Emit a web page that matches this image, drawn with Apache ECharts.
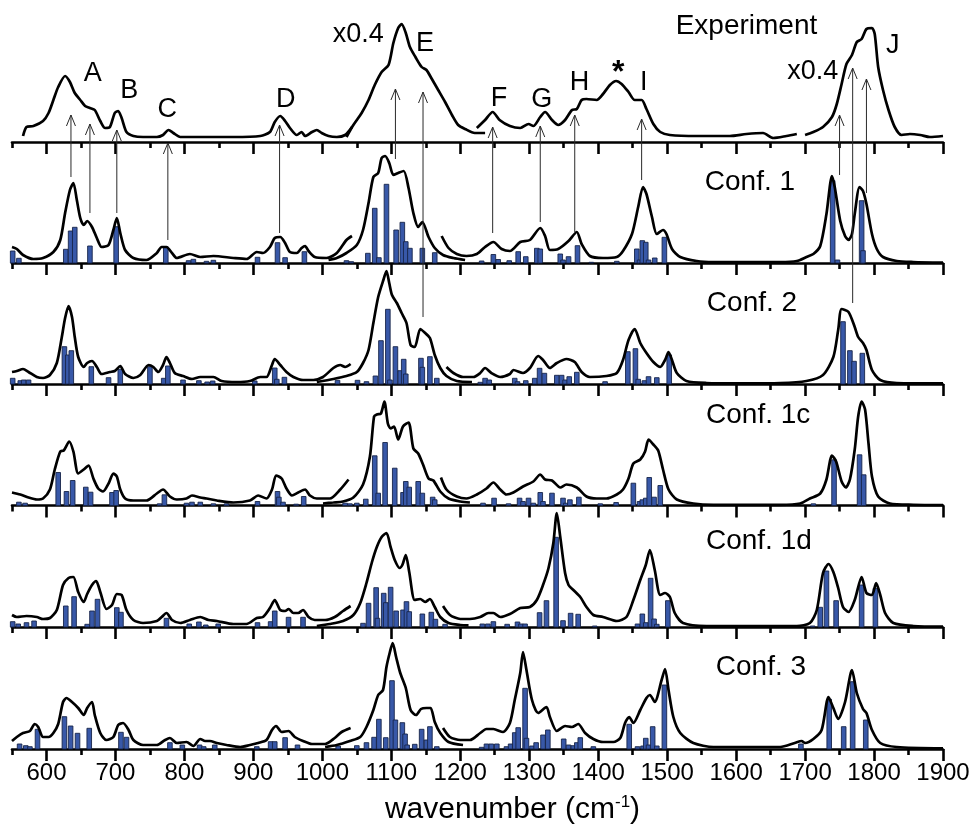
<!DOCTYPE html>
<html>
<head>
<meta charset="utf-8">
<script src="https://cdn.jsdelivr.net/npm/echarts@6/dist/echarts.min.js"></script>
<style>html,body{margin:0;padding:0;background:#fff}#c{width:972px;height:827px}</style>
</head>
<body>
<div id="c"></div>
<script>
// ---------- tick labels ----------
const majorTicks = [600,700,800,900,1000,1100,1200,1300,1400,1500,1600,1700,1800,1900];
const minorTicks = [550,650,750,850,950,1050,1150,1250,1350,1450,1550,1650,1750,1850];

// ---------- Experiment (segments) ----------
const expSeg1 = [[566,6],[571,15],[581,16],[595,21],[603,29],[610,42],[617,55],[627,66],[634,60],[641,49],[649,42],[656,36],[663,34],[670,32],[678,21],[685,14],[692,15],[699,29],[704,31],[709,24],[716,10],[726,6],[740,5],[760,5],[769,7],[777,12],[784,9],[794,5],[823,5],[871,5],[910,6],[924,10],[931,20],[939,26],[946,21],[953,14],[963,7],[970,10],[975,6],[985,10],[992,12],[999,9],[1009,6],[1021,5],[1033,7],[1043,15]];
const expSeg2 = [[1035,5],[1045,17],[1057,29],[1067,42],[1076,57],[1086,70],[1096,77],[1103,99],[1110,114],[1115,118],[1121,109],[1127,95],[1135,85],[1144,75],[1151,72],[1158,64],[1168,52],[1178,40],[1188,27],[1197,17],[1207,13],[1221,9],[1236,9]];
const expSeg3 = [[1224,14],[1236,22],[1247,30],[1257,22],[1272,16],[1287,14],[1299,18],[1306,16],[1316,25],[1323,30],[1333,22],[1342,17],[1352,22],[1362,32],[1369,33],[1376,42],[1383,43],[1398,42],[1407,48],[1417,57],[1426,61],[1434,58],[1444,50],[1453,42],[1463,42],[1470,33],[1480,18],[1490,10],[1504,7],[1543,6],[1591,6],[1615,8],[1639,9],[1654,4],[1673,6],[1688,8]];
const expSeg4 = [[1700,7],[1712,10],[1726,15],[1739,25],[1746,38],[1753,58],[1760,78],[1768,87],[1775,100],[1782,103],[1789,113],[1797,114],[1801,108],[1806,75],[1813,52],[1821,32],[1830,15],[1840,7],[1852,8],[1867,7],[1881,5],[1900,6]];

// ---------- Conf. 1 ----------
const conf1Seg1 = [[550,16],[557,14],[566,8],[581,4],[595,5],[610,11],[620,23],[627,50],[634,73],[639,80],[644,63],[649,45],[654,38],[659,42],[666,36],[673,25],[680,16],[690,18],[697,33],[702,45],[707,30],[714,13],[726,5],[745,3],[760,10],[767,16],[774,16],[782,10],[789,5],[808,9],[823,6],[842,7],[871,5],[890,4],[905,11],[914,10],[924,16],[931,25],[939,26],[946,20],[953,11],[963,10],[970,15],[975,17],[980,12],[989,6],[1006,5],[1021,10],[1035,23],[1043,27]];
const conf1Seg2 = [[1009,3],[1021,5],[1035,10],[1050,18],[1059,33],[1067,60],[1074,86],[1081,90],[1086,105],[1091,107],[1097,100],[1103,88],[1110,90],[1118,92],[1125,75],[1132,50],[1139,36],[1145,41],[1154,26],[1163,15],[1175,8],[1190,5],[1207,3]];
const conf1Seg3 = [[1173,27],[1183,15],[1195,9],[1209,7],[1224,9],[1236,16],[1248,21],[1260,14],[1272,12],[1287,21],[1301,23],[1316,35],[1323,27],[1330,13],[1342,14],[1357,22],[1369,31],[1376,19],[1388,7],[1407,5],[1427,6],[1436,12],[1449,29],[1458,56],[1465,76],[1470,69],[1478,46],[1485,29],[1494,33],[1499,29],[1507,14],[1519,6],[1543,2],[1567,1],[1615,1],[1664,1],[1688,2],[1702,6],[1712,9],[1722,17],[1731,49],[1739,87],[1743,76],[1751,42],[1758,27],[1763,23],[1768,29],[1772,49],[1779,76],[1784,72],[1789,59],[1797,29],[1804,14],[1813,6],[1833,2],[1857,1],[1900,0.3]];
const conf1Bars = [[551,12],[560,4.7],[628,13.7],[635,32],[641,35.7],[663,17],[701,36.3],[773,16.3],[806,2.3],[813,3.7],[832,1.7],[842,2.7],[906,5.7],[935,20.3],[946,5.3],[974,11.3],[1035,2.3],[1042,1.3],[1066,9.7],[1076,54.7],[1082,5.3],[1093,78.7],[1107,33],[1116,40.7],[1121,21.3],[1127,14.7],[1145,14.7],[1163,10.3],[1231,2],[1248,8.5],[1255,3.5],[1271,2.3],[1284,11.3],[1295,6.3],[1311,14.7],[1316,14],[1345,9],[1349,3],[1357,6.3],[1370,17.3],[1390,0.7],[1427,1.7],[1456,14],[1460,3],[1464,22.3],[1469,20.7],[1473,3],[1482,5],[1496,25.7],[1740,82.3],[1747,3],[1782,62.3],[1784,12.3]];

// ---------- Conf. 2 ----------
const conf2Seg1 = [[550,12],[557,13],[566,15],[574,12],[586,7],[595,6],[605,9],[615,21],[622,46],[627,66],[632,78],[637,67],[641,47],[646,27],[654,17],[659,21],[666,23],[673,17],[680,10],[692,12],[699,13],[707,18],[714,10],[726,6],[736,9],[748,19],[755,17],[762,12],[769,19],[774,27],[779,21],[786,11],[798,8],[811,5],[823,7],[842,7],[854,3],[876,2],[895,3],[910,7],[919,7],[927,19],[931,25],[939,19],[948,12],[958,7],[972,4],[987,4],[1001,7],[1016,16],[1026,19],[1033,17],[1041,20]];
const conf2Seg2 = [[992,2],[1016,5],[1035,8],[1050,12],[1059,21],[1067,34],[1074,61],[1081,87],[1089,105],[1093,113],[1097,101],[1101,89],[1108,81],[1115,71],[1122,61],[1128,39],[1134,37],[1142,55],[1149,51],[1156,46],[1163,29],[1171,16],[1180,8],[1195,3],[1217,2]];
const conf2Seg3 = [[1180,17],[1190,11],[1204,7],[1219,7],[1229,11],[1236,16],[1245,11],[1258,7],[1272,10],[1277,14],[1291,11],[1301,16],[1313,28],[1320,24],[1330,16],[1340,21],[1354,25],[1366,22],[1376,12],[1388,7],[1412,8],[1427,11],[1436,24],[1444,44],[1453,55],[1461,41],[1470,31],[1480,22],[1490,17],[1497,24],[1502,32],[1507,24],[1514,11],[1528,3],[1557,1],[1606,0.7],[1664,1],[1702,3],[1726,9],[1741,27],[1748,54],[1753,75],[1763,72],[1772,57],[1777,47],[1784,41],[1789,34],[1797,14],[1809,4],[1833,1],[1900,0.7]];
const conf2Bars = [[551,5.7],[562,3.3],[567,4],[574,4],[626,37.3],[631,29],[636,33.3],[665,17.3],[690,6.3],[707,14.7],[750,17.3],[770,5.7],[776,18],[798,4],[821,3.3],[833,2],[841,3],[902,3],[931,16],[934,4.7],[945,6.7],[1022,3.7],[1051,3.7],[1064,2.3],[1077,8],[1085,43.3],[1095,74.7],[1098,4],[1106,37.3],[1113,13.3],[1118,24.7],[1121,10],[1143,25.7],[1145,16.7],[1156,27.3],[1166,5.7],[1229,1.7],[1236,5.7],[1242,4],[1279,5.7],[1283,2.3],[1295,3.3],[1308,5.7],[1315,15.7],[1322,10.7],[1340,8.7],[1347,8.7],[1352,4],[1358,7.3],[1369,11.7],[1410,2.3],[1443,32.3],[1454,35.3],[1458,4.7],[1467,3.3],[1473,7.3],[1485,6.3],[1503,29],[1755,62.3],[1765,33.3],[1771,22.7],[1783,30.7]];

// ---------- Conf. 1c ----------
const conf1cSeg1 = [[550,13],[562,11],[574,8],[586,6],[595,7],[605,16],[612,36],[620,54],[625,55],[633,64],[639,54],[646,32],[654,36],[661,40],[668,27],[675,17],[682,14],[690,22],[697,32],[702,29],[707,16],[714,7],[726,5],[745,5],[760,12],[769,16],[779,9],[789,6],[803,7],[811,10],[823,8],[832,7],[847,5],[871,3],[895,5],[907,10],[919,7],[927,16],[933,30],[941,27],[948,17],[956,10],[965,13],[975,16],[982,10],[992,7],[1011,7],[1026,16],[1038,26]];
const conf1cSeg2 = [[1001,2],[1016,3],[1030,4],[1045,8],[1059,21],[1069,49],[1075,89],[1079,91],[1085,92],[1090,104],[1095,82],[1099,77],[1104,79],[1110,66],[1117,79],[1125,83],[1132,57],[1139,52],[1146,41],[1154,27],[1161,25],[1171,14],[1183,7],[1200,4],[1214,3]];
const conf1cSeg3 = [[1172,28],[1180,16],[1195,9],[1209,7],[1224,11],[1238,17],[1248,23],[1258,16],[1267,11],[1277,13],[1291,19],[1306,24],[1316,31],[1323,26],[1333,25],[1345,18],[1354,21],[1369,18],[1383,9],[1398,7],[1412,7],[1427,11],[1436,16],[1444,27],[1451,42],[1461,46],[1468,54],[1473,66],[1480,61],[1487,55],[1494,36],[1502,16],[1514,6],[1538,2],[1567,0.7],[1615,0.7],[1664,0.7],[1693,2],[1707,7],[1722,12],[1731,26],[1739,50],[1745,44],[1753,24],[1759,18],[1765,26],[1772,56],[1777,89],[1782,104],[1787,96],[1792,62],[1797,29],[1806,9],[1823,2],[1857,0.7],[1900,0.3]];
const conf1cBars = [[560,3.3],[569,2.3],[617,33],[629,14],[638,25],[657,18.3],[664,13.3],[695,13],[701,15],[764,1.7],[771,10.7],[803,2.3],[811,3.3],[823,3.3],[842,1.7],[861,1.7],[906,4],[935,14],[937,8.3],[943,3.3],[962,1.3],[973,9],[1033,2.3],[1040,1.7],[1050,2.3],[1063,6.3],[1076,49.7],[1081,12.3],[1091,63],[1105,37.3],[1117,13],[1121,24],[1126,18.3],[1139,24],[1145,12.3],[1160,8.3],[1163,5.7],[1233,2.3],[1249,7.3],[1270,1.7],[1286,7.3],[1291,4],[1299,7.3],[1306,2.3],[1316,13],[1320,4],[1333,12.3],[1349,7.3],[1353,2.3],[1359,5.7],[1372,8.3],[1403,1.7],[1426,3],[1451,22.3],[1460,4],[1464,5.7],[1469,7.3],[1474,28],[1481,8.3],[1490,20],[1712,1.7],[1742,45.7],[1779,50.7],[1785,30.7]];

// ---------- Conf. 1d ----------
const conf1dSeg1 = [[550,12],[557,10],[571,11],[586,10],[595,8],[605,9],[615,17],[624,42],[632,49],[639,50],[646,35],[654,25],[659,33],[666,42],[672,46],[678,35],[687,18],[695,22],[702,33],[709,32],[716,17],[726,7],[740,4],[760,6],[767,10],[774,14],[782,7],[794,4],[808,7],[823,10],[835,7],[847,6],[871,3],[890,3],[905,9],[914,10],[924,19],[931,27],[939,17],[946,16],[951,18],[958,14],[965,14],[972,17],[980,10],[989,7],[1004,7],[1018,10],[1030,16],[1041,21]];
const conf1dSeg2 = [[992,1],[1011,3],[1030,6],[1045,12],[1055,24],[1064,44],[1072,65],[1079,80],[1086,90],[1093,94],[1099,80],[1105,67],[1112,59],[1116,62],[1121,72],[1126,55],[1134,27],[1142,28],[1149,25],[1156,28],[1163,20],[1171,10],[1183,4],[1200,2],[1212,1.7]];
const conf1dSeg3 = [[1175,21],[1185,12],[1200,8],[1214,8],[1229,10],[1241,14],[1248,14],[1258,10],[1272,13],[1287,19],[1301,20],[1311,27],[1320,42],[1328,59],[1335,84],[1340,114],[1345,90],[1352,54],[1357,42],[1364,37],[1374,30],[1383,20],[1393,12],[1407,10],[1427,6],[1441,10],[1451,27],[1461,47],[1469,62],[1475,77],[1482,57],[1490,32],[1497,34],[1504,30],[1511,14],[1523,4],[1557,1],[1615,1],[1688,1],[1707,4],[1717,17],[1726,54],[1734,63],[1741,55],[1748,39],[1755,20],[1763,15],[1772,27],[1782,50],[1789,34],[1797,32],[1803,44],[1809,32],[1816,14],[1828,4],[1857,1],[1900,0.3]];
const conf1dBars = [[551,5.3],[559,3],[571,4.3],[582,6],[628,21],[640,30.3],[659,2.7],[666,16],[674,27.7],[702,19.3],[708,14.7],[774,8.7],[807,3],[821,5],[831,2],[849,3],[906,4.3],[925,5.3],[931,16],[951,9.7],[972,9.7],[1059,3.7],[1067,23.7],[1078,39.3],[1080,8.7],[1089,33.7],[1092,24.3],[1099,39.7],[1107,16],[1117,17],[1122,25.3],[1126,15.3],[1145,13],[1158,14.7],[1164,7.7],[1178,2.7],[1232,3],[1240,3],[1248,5.3],[1268,2.7],[1283,5],[1288,3],[1294,3],[1315,14.3],[1325,26.3],[1339,89.7],[1349,6.3],[1360,13.7],[1371,12.7],[1395,1],[1457,3],[1464,13],[1469,4.3],[1476,48.7],[1481,8],[1485,2.7],[1501,26.3],[1711,1],[1722,19.7],[1731,56],[1745,26.3],[1782,42],[1802,38.7]];

// ---------- Conf. 3 ----------
const conf3Seg1 = [[550,8],[557,12],[566,16],[576,18],[583,25],[588,22],[595,12],[603,12],[610,16],[617,25],[624,47],[629,51],[637,47],[646,41],[654,34],[659,41],[666,47],[670,34],[678,16],[687,9],[697,12],[704,24],[711,26],[719,19],[726,9],[740,4],[760,4],[772,9],[779,11],[789,6],[803,7],[813,3],[823,10],[830,8],[837,8],[847,6],[861,4],[881,2],[895,4],[907,6],[919,9],[927,19],[933,23],[941,17],[951,18],[960,12],[972,8],[985,5],[1004,5],[1018,11],[1028,17],[1041,21]];
const conf3Seg2 = [[1004,2],[1021,4],[1040,8],[1055,12],[1064,22],[1074,39],[1081,54],[1088,59],[1093,82],[1098,97],[1102,106],[1107,92],[1113,76],[1121,61],[1128,39],[1136,34],[1143,40],[1151,41],[1157,41],[1163,27],[1171,16],[1183,7],[1204,4]];
const conf3Seg3 = [[1175,21],[1185,12],[1200,9],[1214,9],[1229,16],[1238,20],[1248,20],[1262,17],[1272,26],[1279,49],[1287,76],[1291,97],[1296,79],[1304,49],[1313,36],[1325,42],[1330,32],[1340,18],[1352,23],[1362,22],[1371,25],[1381,16],[1393,10],[1407,7],[1422,7],[1432,11],[1439,26],[1445,32],[1451,26],[1461,39],[1470,51],[1475,54],[1482,47],[1492,69],[1497,80],[1502,59],[1509,32],[1519,16],[1538,6],[1567,2],[1615,2],[1664,2],[1685,6],[1695,8],[1700,6],[1712,10],[1724,19],[1734,52],[1741,41],[1748,30],[1758,47],[1768,79],[1775,56],[1784,40],[1789,36],[1797,19],[1809,6],[1833,2],[1900,0.7]];
const conf3Bars = [[561,5],[570,3.3],[576,2.3],[587,19.7],[626,32.3],[635,23],[645,15.7],[662,20.7],[708,16.7],[716,11.7],[779,6.3],[797,4],[822,4],[828,2.3],[844,4],[905,2.3],[925,7.3],[931,7.3],[946,11.3],[964,4],[1023,3],[1050,3.3],[1064,6.3],[1075,11.7],[1082,29.7],[1092,11.3],[1101,68.3],[1106,29],[1116,26.3],[1120,15],[1123,4],[1134,4.7],[1144,19.7],[1151,9],[1156,22.3],[1166,2.3],[1231,1.7],[1238,5],[1245,5],[1253,5],[1267,2.3],[1273,5],[1279,16.3],[1284,21.3],[1294,60.7],[1296,10.7],[1304,3],[1310,6.3],[1320,14],[1327,19],[1350,10],[1357,4],[1364,3.3],[1369,6.3],[1374,11.3],[1393,2.3],[1445,24.7],[1457,2.3],[1465,3],[1469,10.7],[1473,4],[1479,22.3],[1485,3],[1496,64],[1694,5],[1735,49.7],[1756,22.3],[1769,67.3],[1788,29]];

// ---------- assignment arrows: [wavenumber, tail, head] in Experiment-panel units ----------
const arrows = [[635.5,-35,27],[663,-71,18],[702,-71,12],[776,-98,-1],[938,-91,17],[1106,-17,53],[1146,-175,50],[1247,-91,15],[1316,-80,16],[1366,-90,27],[1463,-38,23],[1750,-33,27],[1769,-161,74],[1789,-51,63]];

// ---------- text labels: [text, wavenumber, height] ----------
const expTexts = [['A',667,68],['B',720,51],['C',775,32],['D',947,42],['x0.4',1052,107],['E',1149,98],['F',1256,43],['G',1318,42],['H',1373,59],['I',1466,59],['Experiment',1615,116],['x0.4',1711,70],['J',1827,96]];
const starText = [['*',1429,69]];
const panelNames = ['Conf. 1','Conf. 2','Conf. 1c','Conf. 1d','Conf. 3'];
const panelNamePos = [[1620,81],[1623,81],[1632,90],[1633,86],[1636,82]];

const panels = [
  {segs:[expSeg1,expSeg2,expSeg3,expSeg4], bars:[]},
  {segs:[conf1Seg1,conf1Seg2,conf1Seg3], bars:conf1Bars},
  {segs:[conf2Seg1,conf2Seg2,conf2Seg3], bars:conf2Bars},
  {segs:[conf1cSeg1,conf1cSeg2,conf1cSeg3], bars:conf1cBars},
  {segs:[conf1dSeg1,conf1dSeg2,conf1dSeg3], bars:conf1dBars},
  {segs:[conf3Seg1,conf3Seg2,conf3Seg3], bars:conf3Bars}
];

const FONT = '"Liberation Sans", Arial, Helvetica, sans-serif';
const baseY = [142, 263, 384, 505.5, 627, 749];
const PH = 121;

const grids = [], xAxes = [], yAxes = [], series = [];
baseY.forEach((b, i) => {
  grids.push({left: 12, right: 29, top: b - PH, height: PH, outerBoundsMode: 'none', containLabel: false});
  const last = i === baseY.length - 1;
  xAxes.push({
    gridIndex: i, type: 'value', min: 550, max: 1900, position: 'bottom',
    axisLine: {show: true, onZero: false, lineStyle: {color: '#000', width: 2.6}},
    axisTick: {show: true, length: 12, customValues: majorTicks, lineStyle: {color: '#000', width: 2.6}},
    axisLabel: {show: last, customValues: majorTicks, fontSize: 24, color: '#000', fontFamily: FONT, margin: 12,
      formatter: v => String(v)},
    splitLine: {show: false},
    name: last ? 'wavenumber (cm{sup|-1})' : '',
    nameLocation: 'middle', nameGap: 45,
    nameTextStyle: {fontSize: 30, color: '#000', fontFamily: FONT, padding: [0, 0, 0, 70], lineHeight: 32,
      rich: {sup: {fontSize: 17, fontFamily: FONT, color: '#000', verticalAlign: 'top', lineHeight: 21}}}
  });
  xAxes.push({
    gridIndex: i, type: 'value', min: 550, max: 1900, position: 'bottom',
    axisLine: {show: false, onZero: false},
    axisTick: {show: true, length: 6, customValues: minorTicks, lineStyle: {color: '#000', width: 2.6}},
    axisLabel: {show: false}, splitLine: {show: false}
  });
  yAxes.push({gridIndex: i, type: 'value', min: 0, max: PH, show: false});

  const p = panels[i];
  if (p.bars.length) {
    series.push({
      type: 'custom', xAxisIndex: 2 * i, yAxisIndex: i, data: p.bars, z: 2, silent: true,
      encode: {x: 0, y: 1},
      renderItem: function (params, api) {
        const x = api.value(0), h = api.value(1);
        const top = api.coord([x, h]), bot = api.coord([x, 0]);
        const w = 4.6;
        return {type: 'rect', shape: {x: top[0] - w / 2, y: top[1], width: w, height: bot[1] - top[1]},
          style: {fill: '#3858a8', stroke: '#17254a', lineWidth: 0.9}};
      }
    });
  }
  p.segs.forEach(seg => {
    series.push({type: 'line', xAxisIndex: 2 * i, yAxisIndex: i, data: seg, symbol: 'none', showSymbol: false,
      smooth: 0.25, lineStyle: {color: '#000', width: 2.7}, z: 3, silent: true});
  });
  if (i > 0) {
    series.push({
      type: 'custom', xAxisIndex: 2 * i, yAxisIndex: i, z: 6, silent: true,
      data: [panelNamePos[i - 1]],
      renderItem: function (params, api) {
        const c = api.coord([api.value(0), api.value(1)]);
        return {type: 'text', x: c[0], y: c[1], style: {text: panelNames[i - 1], fontSize: 28, fontFamily: FONT,
          fill: '#000', align: 'center', verticalAlign: 'middle'}};
      }
    });
  }
});

// arrows (in Experiment panel units, extending down into the calculated panels)
series.push({
  type: 'custom', xAxisIndex: 0, yAxisIndex: 0, z: 5, silent: true, clip: false,
  data: arrows,
  renderItem: function (params, api) {
    const x = api.value(0);
    const t = api.coord([x, api.value(1)]), h = api.coord([x, api.value(2)]);
    return {type: 'group', children: [
      {type: 'line', shape: {x1: t[0], y1: t[1], x2: h[0], y2: h[1]}, style: {stroke: '#2a2a2a', lineWidth: 1}},
      {type: 'polyline', shape: {points: [[h[0] - 4.5, h[1] + 11], [h[0], h[1]], [h[0] + 4.5, h[1] + 11]]},
        style: {stroke: '#2a2a2a', lineWidth: 1, fill: null}}
    ]};
  }
});
// experiment letters
series.push({
  type: 'custom', xAxisIndex: 0, yAxisIndex: 0, z: 6, silent: true, clip: false,
  data: expTexts.map(d => [d[1], d[2]]),
  renderItem: function (params, api) {
    const c = api.coord([api.value(0), api.value(1)]);
    const txt = expTexts[params.dataIndex][0];
    return {type: 'text', x: c[0], y: c[1], style: {text: txt, fontSize: txt === 'Experiment' ? 28 : 27,
      fontFamily: FONT, fill: '#000', align: 'center', verticalAlign: 'middle'}};
  }
});
series.push({
  type: 'custom', xAxisIndex: 0, yAxisIndex: 0, z: 6, silent: true, clip: false,
  data: starText.map(d => [d[1], d[2]]),
  renderItem: function (params, api) {
    const c = api.coord([api.value(0), api.value(1)]);
    return {type: 'text', x: c[0], y: c[1], style: {text: starText[params.dataIndex][0], fontSize: 32, fontWeight: 'bold',
      fontFamily: FONT, fill: '#000', align: 'center', verticalAlign: 'middle'}};
  }
});

const chart = echarts.init(document.getElementById('c'), null, {renderer: 'canvas'});
chart.setOption({
  animation: false,
  backgroundColor: '#fff',
  grid: grids, xAxis: xAxes, yAxis: yAxes, series: series
});
</script>
</body>
</html>
